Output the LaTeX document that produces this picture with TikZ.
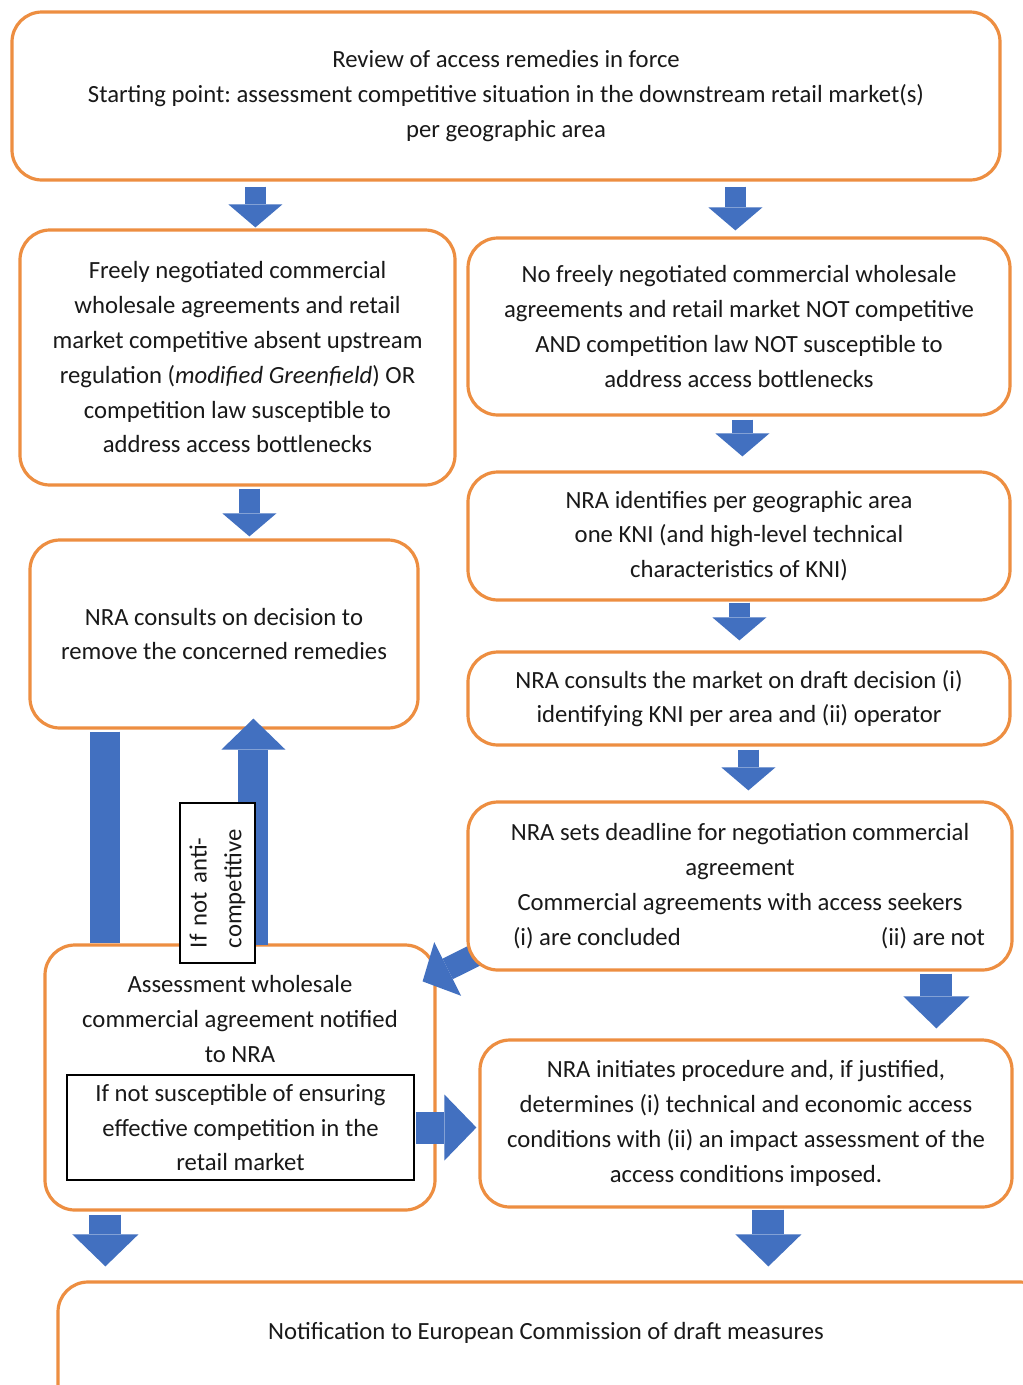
\documentclass[tikz,border=0pt]{standalone}
\usepackage{fontspec}
\setmainfont{Carlito}
\usetikzlibrary{arrows.meta,calc}
\definecolor{boxorange}{RGB}{237,142,65}
\definecolor{flowblue}{RGB}{66,112,192}
\definecolor{inkgray}{RGB}{25,25,25}
\pgfdeclarelayer{bottom}
\pgfdeclarelayer{middle}
\pgfsetlayers{bottom,middle,main}
\frenchspacing

\begin{document}
\begin{tikzpicture}[x=1pt,y=-1pt,
  every node/.style={font=\fontsize{24.7}{34.8}\selectfont, text=inkgray},
  stage/.style={draw=boxorange, line width=3.2pt, rounded corners=30pt, fill=white, align=center, inner sep=0pt},
  note/.style={draw=black, line width=1.3pt, fill=white, align=center, inner sep=0pt},
  flow/.style={draw=flowblue, line width=21pt, -{Triangle[width=54pt,length=23pt,line width=0pt]}},
  bigflow/.style={draw=flowblue, line width=32pt, -{Triangle[width=66pt,length=32pt,line width=0pt]}},
  upflow/.style={draw=flowblue, line width=30pt, -{Triangle[width=64pt,length=31pt,line width=0pt]}},
  bar/.style={draw=flowblue, line width=30pt},
]
\useasboundingbox (0,0) rectangle (1023,1385);
\begin{pgfonlayer}{bottom}
  \fill[white] (0,0) rectangle (1023,1385);
\end{pgfonlayer}
\clip (0,0) rectangle (1023,1385);

% process stages
\node[stage, minimum width=988, minimum height=168] (A) at (506,96)
  {Review of access remedies in force\\
   Starting point: assessment competitive situation in the downstream retail market(s)\\
   per geographic area};
\node[stage, minimum width=435, minimum height=255] (B) at (237.5,357.5)
  {Freely negotiated commercial\\
   wholesale agreements and retail\\
   market competitive absent upstream\\
   regulation (\textit{modified Greenfield}) OR\\
   competition law susceptible to\\
   address access bottlenecks};
\node[stage, minimum width=542, minimum height=177] (C) at (739,326.5)
  {No freely negotiated commercial wholesale\\
   agreements and retail market NOT competitive\\
   AND competition law NOT susceptible to\\
   address access bottlenecks};
\node[stage, minimum width=542, minimum height=128] (D) at (739,536)
  {NRA identifies per geographic area\\
   one KNI (and high-level technical\\
   characteristics of KNI)};
\node[stage, minimum width=542, minimum height=93] (E) at (739,698.5)
  {NRA consults the market on draft decision (i)\\
   identifying KNI per area and (ii) operator};
\node[stage, minimum width=544, minimum height=168] (F) at (740,886)
  {NRA sets deadline for negotiation commercial\\
   agreement\\
   Commercial agreements with access seekers\\
   \hspace*{18pt}\makebox[472pt]{(i) are concluded\hfill(ii) are not}};
\node[stage, minimum width=388, minimum height=188] (G) at (224,634)
  {NRA consults on decision to\\
   remove the concerned remedies};
\begin{pgfonlayer}{bottom}
  \node[stage, minimum width=390, minimum height=265] (H) at (240,1077.5) {};
\end{pgfonlayer}
\node[align=center] (Htext) at (240,1019)
  {Assessment wholesale\\
   commercial agreement notified\\
   to NRA};
\node[note, minimum width=347, minimum height=105] (Hcond) at (240.5,1127.5)
  {If not susceptible of ensuring\\
   effective competition in the\\
   retail market};
\node[stage, minimum width=532, minimum height=167] (I) at (746,1123.5)
  {NRA initiates procedure and, if justified,\\
   determines (i) technical and economic access\\
   conditions with (ii) an impact assessment of the\\
   access conditions imposed.};
\node[stage, minimum width=992, minimum height=160] (J) at (554,1362) {};
\node (Jtext) at (546,1333) {Notification to European Commission of draft measures};

% block arrows between stages
\draw[flow] ($(A.south west)+(245,5)$) -- ($(B.north west)+(237,-1)$);
\draw[flow] ($(A.south west)+(725,5)$) -- ($(C.north west)+(269,-6)$);
\draw[flow] ($(C.south west)+(276,3)$) -- ($(D.north west)+(276,-14)$);
\draw[flow] ($(D.south west)+(273,1)$) -- ($(E.north west)+(273,-10)$);
\draw[flow] ($(E.south west)+(282,3)$) -- ($(F.north west)+(282,-10)$);
\draw[flow] ($(B.south west)+(231,2)$) -- ($(G.north west)+(221,-2)$);
\draw[bigflow] ($(F.south west)+(470,2)$) -- ($(I.north west)+(458,-10)$);
\draw[bigflow] ($(Hcond.east)+(1.5,0)$) -- ($(I.west)+(-2,4)$);
\draw[bigflow] ($(H.south west)+(62,3)$) -- ($(J.north west)+(49,-14)$);
\draw[bigflow] ($(I.south west)+(290,1)$) -- ($(J.north west)+(712,-14)$);
% the concluded-agreements arrow runs out from under the deadline box
\begin{pgfonlayer}{middle}
  \draw[flow, line width=23pt, -{Triangle[width=60pt,length=28pt,line width=0pt]}]
    ($(F.south west)+(16,-20)$) -- ($(H.north east)+(-14,38)$);
\end{pgfonlayer}
\draw[bar] ($(G.south west)+(77,2)$) -- ($(H.north west)+(62,0)$);
\draw[upflow] ($(H.north west)+(210,2)$) -- ($(G.south west)+(225,-11)$);

% condition on the way back up
\node[note, rotate=90, minimum width=160, minimum height=75, text width=130, align=left] (cond) at (217.5,883)
  {If not anti-\\competitive};
\end{tikzpicture}
\end{document}
